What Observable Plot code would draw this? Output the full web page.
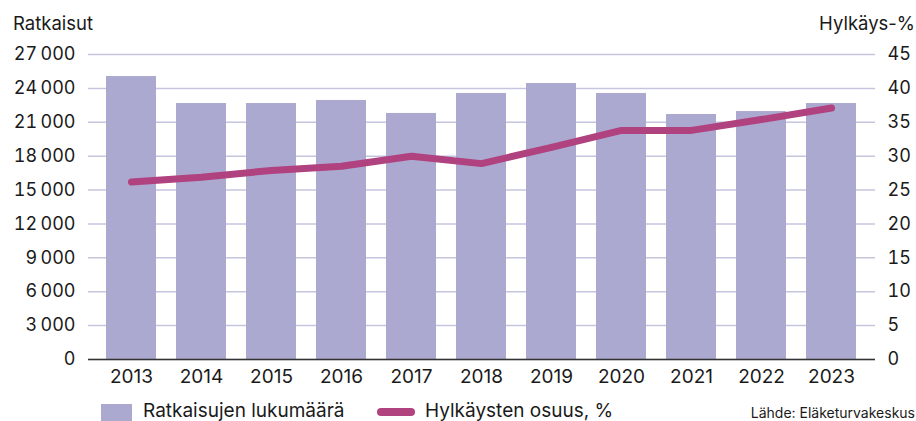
<!DOCTYPE html>
<html>
<head>
<meta charset="utf-8">
<script src="https://cdn.jsdelivr.net/npm/d3@7"></script>
<script src="https://cdn.jsdelivr.net/npm/@observablehq/plot@0.6"></script>
<style>
  html, body { margin: 0; padding: 0; background: #fff; }
  body { width: 916px; height: 421px; position: relative; overflow: hidden; font-family: Inter, "Noto Sans", sans-serif; color: #1a1a1a; }
  .lbl { position: absolute; font-size: 18.5px; line-height: 1; white-space: nowrap; }
  #chart { position: absolute; left: 0; top: 0; }
  .leg { position: absolute; top: 400px; left: 0; width: 916px; height: 21px; font-size: 19px; }
  .leg span { position: absolute; white-space: nowrap; line-height: 1; }
</style>
</head>
<body>
<div class="lbl" style="left:13px; top:14px;">Ratkaisut</div>
<div class="lbl" style="right:1px; top:14px;">Hylkäys-%</div>
<div id="chart"></div>
<div class="leg">
  <span style="left:101px; top:4px; width:31px; height:17px; background:#aba9cf;"></span>
  <span style="left:143px; top:1px;">Ratkaisujen lukumäärä</span>
  <span style="left:377px; top:8px; width:38px; height:8px; border-radius:4px; background:#b0427f;"></span>
  <span style="left:425px; top:1px;">Hylkäysten osuus, %</span>
  <span style="right:1px; top:6px; font-size:14px;">Lähde: Eläketurvakeskus</span>
</div>
<script>
const years = ["2013","2014","2015","2016","2017","2018","2019","2020","2021","2022","2023"];
const ratkaisut = [25050, 22660, 22660, 22930, 21780, 23550, 24430, 23550, 21690, 21950, 22660];
const hylkaysPct = [26.2, 26.9, 27.9, 28.5, 30.0, 28.9, 31.3, 33.8, 33.8, 35.4, 37.1];
const leftTicks = [0, 3000, 6000, 9000, 12000, 15000, 18000, 21000, 24000, 27000];
const rightTicks = [0, 5, 10, 15, 20, 25, 30, 35, 40, 45];

const ratio = 27000 / 45;
const data = years.map((y, i) => ({year: y, count: ratkaisut[i], pct: hylkaysPct[i], pctScaled: hylkaysPct[i] * ratio}));
const fmt = d3.formatLocale({decimal: ",", thousands: "\u2009", grouping: [3]}).format(",d");

const chart = Plot.plot({
  width: 916,
  height: 395,
  marginLeft: 88,
  marginRight: 41,
  marginTop: 54,
  marginBottom: 36,
  style: {fontFamily: "Inter, 'Noto Sans', sans-serif", fontSize: "18px", color: "#1a1a1a", background: "transparent"},
  x: {domain: years, paddingInner: 0.28, paddingOuter: 0.2},
  y: {domain: [0, 27000]},
  marks: [
    Plot.gridY(leftTicks, {stroke: "#c6c5e0", strokeOpacity: 1, strokeWidth: 1.5}),
    Plot.barY(data, {x: "year", y: "count", fill: "#aba9cf"}),
    Plot.ruleY([0], {stroke: "#333", strokeWidth: 1.5}),
    Plot.lineY(data, {x: "year", y: "pctScaled", stroke: "#b0427f", strokeWidth: 7, strokeLinecap: "round", strokeLinejoin: "round"}),
    Plot.axisY({anchor: "left", ticks: leftTicks, tickFormat: fmt, tickSize: 0, tickPadding: 13, label: null, fontSize: 18}),
    Plot.axisY({anchor: "right", ticks: rightTicks.map(v => v * ratio), tickFormat: d => String(Math.round(d / ratio)), tickSize: 0, tickPadding: 12, label: null, fontSize: 18}),
    Plot.axisX({tickSize: 0, tickPadding: 10, label: null, fontSize: 19})
  ]
});
document.getElementById("chart").appendChild(chart);
</script>
</body>
</html>
